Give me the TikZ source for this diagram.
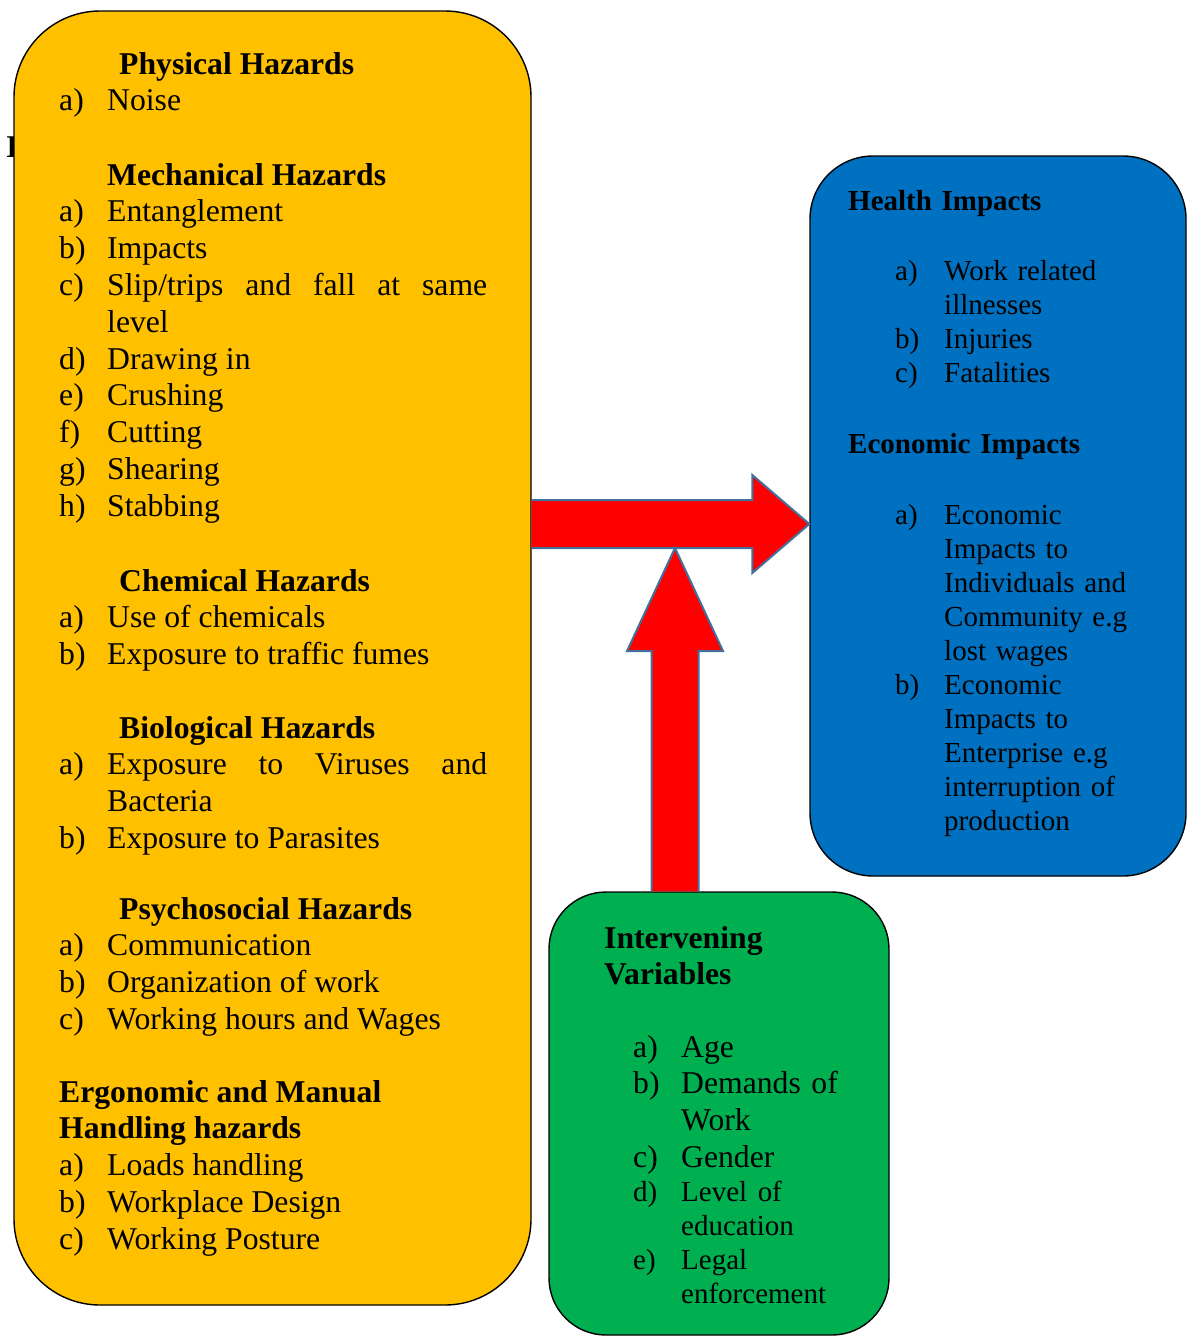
\documentclass[tikz,border=0pt]{standalone}
\usepackage{fontspec}
\setmainfont{Liberation Serif}
\usetikzlibrary{calc}

\definecolor{hazardgold}{HTML}{FFC000}
\definecolor{impactblue}{HTML}{0070C0}
\definecolor{variablegreen}{HTML}{00B050}
\definecolor{arrowred}{HTML}{FF0000}
\definecolor{arrowedge}{HTML}{41719C}

\hyphenpenalty=10000
\exhyphenpenalty=10000

\newcommand{\hazardsize}{\fontsize{31.8pt}{36.8bp}\selectfont}
\newcommand{\impactsize}{\fontsize{29.1pt}{34bp}\selectfont}
\newcommand{\itm}[3][48bp]{\hangindent=#1\hangafter=1\noindent\makebox[#1][l]{#2}#3\par}

\tikzset{
  roundbox/.style={draw=black,line width=1.4bp,inner sep=0pt},
  bigarrow/.style={fill=arrowred,draw=arrowedge,line width=2bp},
  hazardlist/.style={anchor=base west,inner sep=0pt,text width=428bp,align=justify,font=\hazardsize},
  impactlist/.style={anchor=base west,inner sep=0pt,text width=249bp,align=left,font=\impactsize},
  varlist/.style={anchor=base west,inner sep=0pt,text width=218bp,align=left,font=\hazardsize},
  heading/.style={anchor=base west,inner sep=0pt,text width=240bp,align=left,font=\bfseries\impactsize},
}

\begin{document}
\begin{tikzpicture}[line join=miter]
\useasboundingbox (0,0) rectangle (1192bp,-1336bp);
%%
\node (stray) at (6bp,-157bp) [anchor=base west,inner sep=0pt,font=\bfseries\hazardsize] {I};
\node (hazards) at (272.5bp,-658bp) [roundbox,fill=hazardgold,rounded corners=86bp,minimum width=517bp,minimum height=1294bp] {};
\node (impacts) at (998bp,-516bp) [roundbox,fill=impactblue,rounded corners=63bp,minimum width=376bp,minimum height=720bp] {};
\node (variables) at (719bp,-1113.5bp) [roundbox,fill=variablegreen,rounded corners=57bp,minimum width=340bp,minimum height=443bp] {};
%
\coordinate (htail) at (hazards.east |- 0,-524bp);
\coordinate (htip) at (impacts.west |- htail);
\coordinate (vtail) at (675bp,0 |- variables.north);
\coordinate (vtip) at (vtail |- 0,-548bp);
\filldraw [bigarrow] ($(htail)+(0,24bp)$) -- ($(htip)+(-57bp,24bp)$) -- ($(htip)+(-57bp,49bp)$) -- (htip)
  -- ($(htip)+(-57bp,-49bp)$) -- ($(htip)+(-57bp,-24bp)$) -- ($(htail)+(0,-24bp)$);
\filldraw [bigarrow] ($(vtail)+(-23.5bp,0)$) -- ($(vtip)+(-23.5bp,-103bp)$) -- ($(vtip)+(-48bp,-103bp)$) -- (vtip)
  -- ($(vtip)+(48bp,-103bp)$) -- ($(vtip)+(23.5bp,-103bp)$) -- ($(vtail)+(23.5bp,0)$);
%
\node (physical) at (59bp,-74bp) [hazardlist] {\hspace*{60bp}\textbf{Physical Hazards}\par
  \itm{a)}{Noise}};
\node (mechanical) at (59bp,-185bp) [hazardlist] {\hspace*{48bp}\textbf{Mechanical Hazards}\par
  \itm{a)}{Entanglement}
  \itm{b)}{Impacts}
  \itm{c)}{Slip/trips\hfill and\hfill fall\hfill at\hfill same\break level}
  \itm{d)}{Drawing in}
  \itm{e)}{Crushing}
  \itm{f)}{Cutting}
  \itm{g)}{Shearing}
  \itm{h)}{Stabbing}};
\node (chemical) at (59bp,-591bp) [hazardlist] {\hspace*{60bp}\textbf{Chemical Hazards}\par
  \itm{a)}{Use of chemicals}
  \itm{b)}{Exposure to traffic fumes}};
\node (biological) at (59bp,-738bp) [hazardlist] {\hspace*{60bp}\textbf{Biological Hazards}\par
  \itm{a)}{Exposure\hfill to\hfill Viruses\hfill and\break Bacteria}
  \itm{b)}{Exposure to Parasites}};
\node (psychosocial) at (59bp,-919bp) [hazardlist] {\hspace*{60bp}\textbf{Psychosocial Hazards}\par
  \itm{a)}{Communication}
  \itm{b)}{Organization of work}
  \itm{c)}{Working hours and Wages}};
\node (ergonomic) at (59bp,-1102bp) [hazardlist] {\textbf{Ergonomic and Manual}\par
  \textbf{Handling hazards}\par
  \itm{a)}{Loads handling}
  \itm{b)}{Workplace Design}
  \itm{c)}{Working Posture}};
%
\node (health) at (848bp,-210bp) [heading] {Health Impacts};
\node (healthlist) at (895bp,-280bp) [impactlist] {\itm[49bp]{a)}{Work related illnesses}
  \itm[49bp]{b)}{Injuries}
  \itm[49bp]{c)}{Fatalities}};
\node (economic) at (848bp,-453bp) [heading] {Economic Impacts};
\node (economiclist) at (895bp,-524bp) [impactlist] {\itm[49bp]{a)}{Economic Impacts to Individuals and Community e.g lost wages}
  \itm[49bp]{b)}{Economic Impacts to Enterprise e.g interruption of production}};
%
\node (intervening) at (604bp,-948bp) [heading,font=\bfseries\hazardsize] {Intervening\par Variables};
\node (variablelist) at (633bp,-1057bp) [varlist] {\itm{a)}{Age}
  \itm{b)}{Demands of Work}
  \itm{c)}{Gender}
  \impactsize
  \itm{d)}{Level of education}
  \itm{e)}{Legal enforcement}};
%
\end{tikzpicture}
\end{document}
